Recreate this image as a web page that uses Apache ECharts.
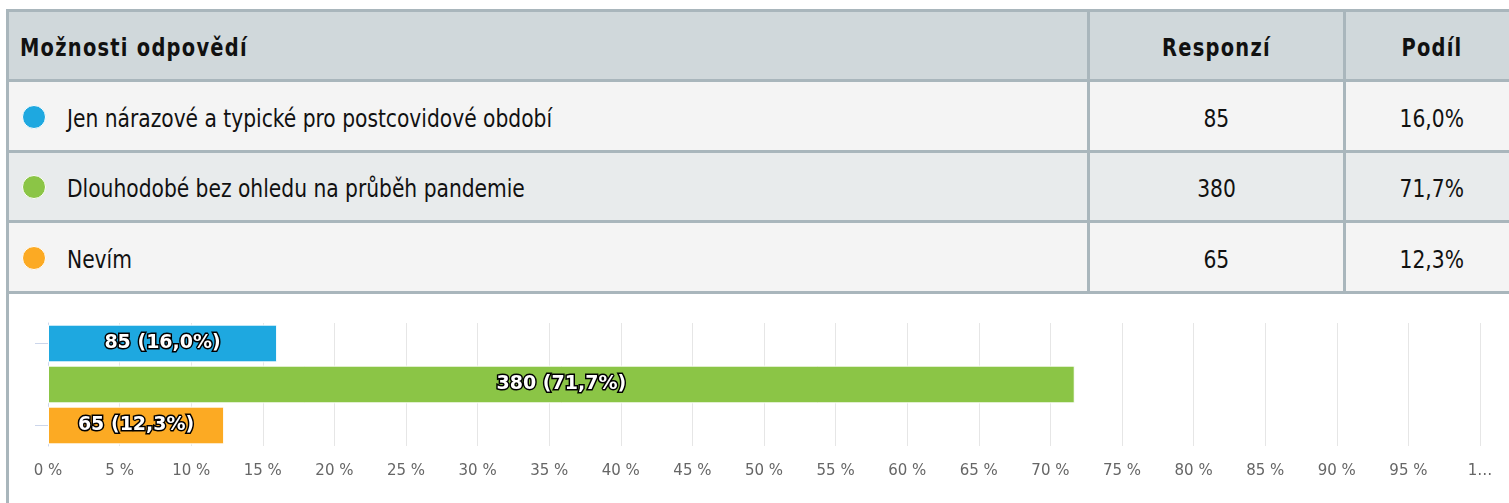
<!DOCTYPE html>
<html>
<head>
<meta charset="utf-8">
<script src="https://cdn.jsdelivr.net/npm/echarts@6/dist/echarts.min.js"></script>
<style>
  html, body { margin: 0; padding: 0; background: #fff; }
  body { width: 1509px; height: 503px; overflow: hidden; position: relative; }
  .narrow { font-family: 'Liberation Sans Narrow', 'DejaVu Sans Condensed', 'Noto Sans', sans-serif; color: #111; }
  #frame { position: absolute; left: 6px; top: 9px; width: 1512px; height: 285px; background: #a9b6bc; }
  #chartBorder { position: absolute; left: 6px; top: 294px; width: 3px; height: 209px; background: #a9b6bc; }
  .cell { position: absolute; display: flex; align-items: center; box-sizing: border-box; padding-top: 4px; }
  .hdr { background: #d0d8db; font-weight: bold; font-size: 24px; letter-spacing: 1.4px; }
  .odd { background: #f4f4f4; font-size: 25px; }
  .even { background: #e8ebec; font-size: 25px; }
  .center { justify-content: center; }
  .txt { display: inline-block; white-space: nowrap; transform: scaleX(0.9); transform-origin: left center; }
  .center .txt { transform-origin: center center; }
  .dot { position: absolute; width: 22px; height: 22px; border-radius: 50%; border: 1.5px solid #fff; }
  #chart { position: absolute; left: 9px; top: 294px; width: 1500px; height: 209px; }
</style>
</head>
<body>
<div id="frame"></div>
<div id="chartBorder"></div>
<div id="table"></div>
<div id="chart"></div>
<script>
// ---- data ----
const headers = ['Možnosti odpovědí', 'Responzí', 'Podíl'];
const categories = ['Jen nárazové a typické pro postcovidové období', 'Dlouhodobé bez ohledu na průběh pandemie', 'Nevím'];
const counts = [85, 380, 65];
const shares = [16.0, 71.7, 12.3];
const colors = ['#1ea8e0', '#8bc546', '#fcaa23'];
const xTickLabels = ['0 %', '5 %', '10 %', '15 %', '20 %', '25 %', '30 %', '35 %', '40 %', '45 %', '50 %',
  '55 %', '60 %', '65 %', '70 %', '75 %', '80 %', '85 %', '90 %', '95 %', '1…'];

const fmtShare = v => v.toFixed(1).replace('.', ',') + '%';

// ---- table (HTML) ----
const tbl = document.getElementById('table');
const cols = [[9, 1087], [1090, 1343], [1346, 1518]];
const rows = [[12, 79], [82, 150], [153, 220], [223, 291]];
function cell(x0, x1, y0, y1, cls, text, padLeft) {
  const d = document.createElement('div');
  d.className = 'cell narrow ' + cls;
  d.style.left = x0 + 'px'; d.style.width = (x1 - x0) + 'px';
  d.style.top = y0 + 'px'; d.style.height = (y1 - y0) + 'px';
  if (padLeft != null) d.style.paddingLeft = padLeft + 'px';
  const s = document.createElement('span');
  s.className = 'txt';
  s.textContent = text;
  d.appendChild(s);
  tbl.appendChild(d);
  return d;
}
// header
cell(cols[0][0], cols[0][1], rows[0][0], rows[0][1], 'hdr', headers[0], 11);
cell(cols[1][0], cols[1][1], rows[0][0], rows[0][1], 'hdr center', headers[1]);
cell(cols[2][0], cols[2][1], rows[0][0], rows[0][1], 'hdr center', headers[2]);
categories.forEach((c, i) => {
  const [y0, y1] = rows[i + 1];
  const cls = i % 2 === 0 ? 'odd' : 'even';
  const d = cell(cols[0][0], cols[0][1], y0, y1, cls, c, 58);
  const dot = document.createElement('div');
  dot.className = 'dot';
  dot.style.background = colors[i];
  dot.style.left = (34 - 9 - 12.5) + 'px';
  dot.style.top = ((y1 - y0) / 2 - 11.5) + 'px';
  d.appendChild(dot);
  cell(cols[1][0], cols[1][1], y0, y1, cls + ' center', String(counts[i]));
  cell(cols[2][0], cols[2][1], y0, y1, cls + ' center', fmtShare(shares[i]));
});

// ---- chart ----
const chart = echarts.init(document.getElementById('chart'), null, { renderer: 'canvas' });
chart.setOption({
  animation: false,
  grid: { left: 39, right: 29, top: 29, height: 123, containLabel: false },
  xAxis: {
    type: 'value', min: 0, max: 100, interval: 5,
    axisLine: { show: false }, axisTick: { show: false },
    splitLine: { show: true, lineStyle: { color: '#e6e6e6', width: 1 } },
    axisLabel: {
      color: '#666', fontSize: 15, fontFamily: 'DejaVu Sans', margin: 18,
      formatter: v => xTickLabels[Math.round(v / 5)]
    }
  },
  yAxis: {
    type: 'category', data: categories, inverse: true,
    axisLine: { show: true, lineStyle: { color: '#ccd6eb', width: 1 } },
    axisTick: { show: true, length: 13, interval: 1, alignWithLabel: true, lineStyle: { color: '#ccd6eb' } },
    axisLabel: { show: false },
    splitLine: { show: false }
  },
  series: [{
    type: 'bar',
    data: shares.map((v, i) => ({ value: v, itemStyle: { color: colors[i] } })),
    barCategoryGap: '8%',
    itemStyle: { borderColor: '#fff', borderWidth: 1 },
    label: {
      show: true, position: 'inside',
      formatter: p => counts[p.dataIndex] + ' (' + fmtShare(shares[p.dataIndex]) + ')',
      color: '#fff', fontFamily: 'DejaVu Sans', fontWeight: 'bold', fontSize: 19,
      textBorderColor: '#000', textBorderWidth: 3
    }
  }]
});
</script>
</body>
</html>
